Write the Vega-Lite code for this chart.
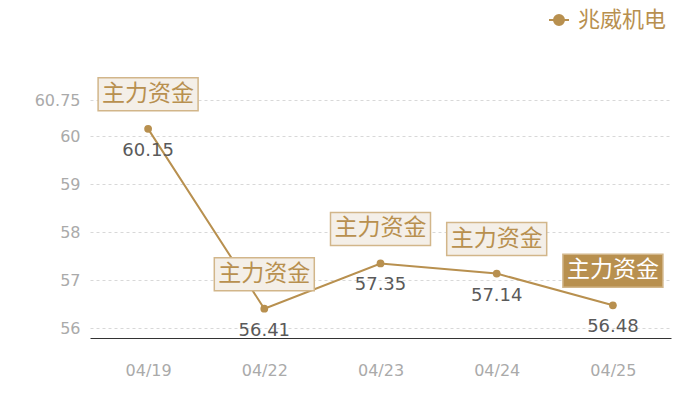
{
  "$schema": "https://vega.github.io/schema/vega-lite/v6.json",
  "width": 581,
  "height": 238,
  "autosize": {"type": "none"},
  "padding": {"left": 90, "top": 100, "right": 29, "bottom": 62},
  "config": {
    "view": {"stroke": null},
    "font": "Noto Sans CJK SC"
  },
  "data": {
    "values": [
      {"date": "04/19", "value": 60.15, "name": "兆威机电", "tag": "主力资金"},
      {"date": "04/22", "value": 56.41, "name": "兆威机电", "tag": "主力资金"},
      {"date": "04/23", "value": 57.35, "name": "兆威机电", "tag": "主力资金"},
      {"date": "04/24", "value": 57.14, "name": "兆威机电", "tag": "主力资金"},
      {"date": "04/25", "value": 56.48, "name": "兆威机电", "tag": "主力资金"}
    ]
  },
  "encoding": {
    "x": {
      "field": "date",
      "type": "ordinal",
      "title": null,
      "axis": {
        "labelAngle": 0,
        "labelColor": "#aaaaaa",
        "labelFont": "DejaVu Sans",
        "labelFontSize": 16,
        "labelPadding": 24,
        "ticks": false,
        "domainColor": "#333333",
        "domainWidth": 1,
        "grid": false
      }
    },
    "y": {
      "field": "value",
      "type": "quantitative",
      "title": null,
      "scale": {"domain": [55.8, 60.75], "nice": false, "zero": false},
      "axis": {
        "values": [56, 57, 58, 59, 60, 60.75],
        "format": ".4~g",
        "labelColor": "#aaaaaa",
        "labelFont": "DejaVu Sans",
        "labelFontSize": 16,
        "labelPadding": 10,
        "ticks": false,
        "domain": false,
        "gridColor": "#d8d8d8",
        "gridDash": [3, 3]
      }
    }
  },
  "layer": [
    {
      "mark": {"type": "line", "strokeWidth": 2, "point": {"size": 60, "filled": true}},
      "encoding": {
        "color": {
          "field": "name",
          "type": "nominal",
          "scale": {"range": ["#b8904f"]},
          "legend": {
            "title": null,
            "orient": "none",
            "legendX": 458,
            "legendY": -91,
            "symbolType": "M-1,0H1M0.5,0A0.5,0.5 0 1,1 -0.5,0A0.5,0.5 0 1,1 0.5,0Z",
            "symbolSize": 400,
            "symbolStrokeWidth": 2,
            "symbolFillColor": "#b8904f",
            "symbolStrokeColor": "#b8904f",
            "labelFontSize": 22,
            "labelColor": "#b8904f",
            "labelOffset": 8
          }
        }
      }
    },
    {
      "mark": {
        "type": "point",
        "shape": "M-1,-1.02H1V-0.36H-1Z",
        "size": 10000,
        "filled": true,
        "opacity": 1,
        "strokeWidth": 1.5,
        "stroke": "#d2b68a"
      },
      "encoding": {
        "fill": {
          "condition": {"test": "datum.date == '04/25'", "value": "#b8904f"},
          "value": "#f4efe8"
        }
      }
    },
    {
      "mark": {"type": "text", "dy": -35, "fontSize": 23, "baseline": "middle"},
      "encoding": {
        "text": {"field": "tag"},
        "color": {
          "condition": {"test": "datum.date == '04/25'", "value": "#ffffff"},
          "value": "#b8904f"
        }
      }
    },
    {
      "mark": {"type": "text", "dy": 22, "font": "DejaVu Sans", "fontSize": 18, "baseline": "middle", "color": "#5a5a5a"},
      "encoding": {
        "text": {"field": "value", "format": ".2f"}
      }
    }
  ]
}
